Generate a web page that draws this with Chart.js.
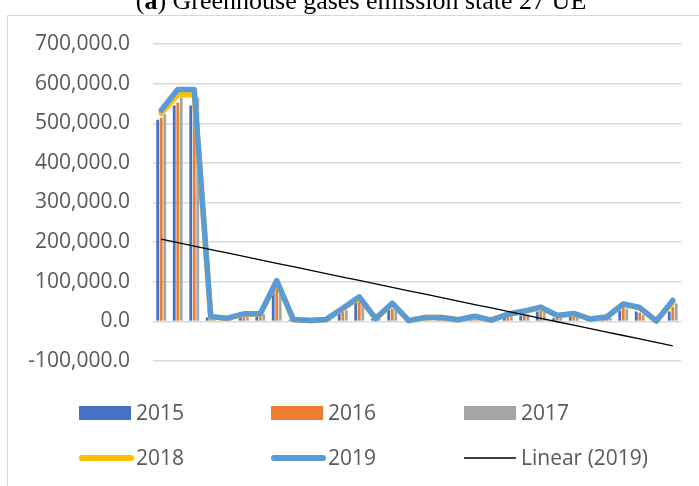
<!DOCTYPE html>
<html><head><meta charset="utf-8">
<script src="https://cdn.jsdelivr.net/npm/chart.js@4/dist/chart.umd.min.js"></script>
<style>
html,body{margin:0;padding:0;background:#fff;overflow:hidden;}
#wrap{position:relative;width:699px;height:486px;}
#frame{position:absolute;left:7px;top:15px;width:720px;height:500px;border-left:1.5px solid #d9d9d9;border-top:1.5px solid #d9d9d9;}
#c{position:absolute;left:0;top:0;}
</style></head><body>
<div id="wrap"><div id="frame"></div><canvas id="c" width="699" height="486"></canvas></div>
<script>
const categories = ["1","2","3","4","5","6","7","8","9","10","11","12","13","14","15","16",
  "17","18","19","20","21","22","23","24","25","26","27","28","29","30","31","32"];
const seriesNames = ["2015","2016","2017","2018","2019","Linear (2019)"];
const y2015 = [509000,545000,545000,10000,6000,11000,14000,80000,4000,1500,4000,21000,49000,6000,30000,1500,
  8000,8000,3000,11000,2500,10000,15000,25000,8000,11000,5000,9000,27000,25000,500,25000];
const y2016 = [514000,552000,555000,9000,6000,13000,16000,87000,4000,1500,4000,25000,51000,6000,32000,1500,
  8000,8000,3000,11000,2500,11000,16000,27000,9000,12000,5000,9000,37000,22000,500,36000];
const y2017 = [523000,564000,565000,9000,5000,12000,18000,72000,4000,1500,4000,28000,46000,6000,28000,1500,
  8000,8000,3000,11000,2500,12000,18000,24000,10000,13000,5000,9000,32000,17000,500,45000];
const y2018 = [525000,572000,572000,11000,8000,18000,18000,100000,5000,2000,5000,32000,60000,7000,45000,2000,
  10000,10000,4000,12000,3000,18000,25000,35000,15000,19000,6000,11000,43000,34000,1000,48000];
const y2019 = [533000,585000,585000,12000,8000,19000,19000,103000,5000,2000,5000,33000,62000,7000,46000,2000,
  10000,10000,4000,13000,3000,18000,26000,36000,15000,20000,6000,11000,44000,35000,1000,53000];
const yTicks = [-100000,0,100000,200000,300000,400000,500000,600000,700000];

// Excel-style least-squares trendline of the 2019 series
function linearTrend(vals){
  const n = vals.length;
  let sx=0, sy=0, sxy=0, sxx=0;
  vals.forEach((v,i)=>{const x=i+1; sx+=x; sy+=v; sxy+=x*v; sxx+=x*x;});
  const b = (n*sxy - sx*sy)/(n*sxx - sx*sx);
  const a = (sy - b*sx)/n;
  return vals.map((v,i)=>a + b*(i+1));
}
const trend2019 = linearTrend(y2019);

const FONT = "'Open Sans', sans-serif";

const customLegend = {
  id:'customLegend',
  afterDraw(chart){
    const ctx = chart.ctx;
    const cols=[79,271,464], rows=[413,458];
    ctx.save();
    ctx.font = "21px " + FONT;
    ctx.textBaseline = 'middle';
    chart.data.datasets.forEach((ds,i)=>{
      const x = cols[i%3], y = rows[Math.floor(i/3)];
      if(ds.type === 'bar'){
        ctx.fillStyle = ds.backgroundColor;
        ctx.fillRect(x, y-7, 52, 14);
      } else {
        ctx.strokeStyle = ds.borderColor;
        ctx.lineWidth = ds.legendWidth;
        const thick = ds.legendWidth > 3;
        ctx.lineCap = thick ? 'round' : 'butt';
        ctx.beginPath();
        ctx.moveTo(thick ? x+3 : x, y); ctx.lineTo(x+52, y); ctx.stroke();
      }
      ctx.fillStyle = '#595959';
      ctx.fillText(ds.label, x+57, y+1);
    });
    ctx.restore();
  }
};

const topTitle = {
  id:'topTitle',
  afterDraw(chart){
    const ctx = chart.ctx;
    ctx.save();
    ctx.fillStyle = '#000';
    ctx.textBaseline = 'alphabetic';
    const y = 9;
    const parts = [["(", "26px 'Liberation Serif', serif"],["a","bold 26px 'Liberation Serif', serif"],[") Greenhouse gases emission state 27 UE","26px 'Liberation Serif', serif"]];
    let total = 0;
    parts.forEach(p=>{ctx.font=p[1]; total += ctx.measureText(p[0]).width;});
    let x = 361 - total/2;
    parts.forEach(p=>{ctx.font=p[1]; ctx.fillText(p[0], x, y); x += ctx.measureText(p[0]).width;});
    ctx.restore();
  }
};

const lineBase = {type:'line', pointRadius:0, pointHoverRadius:0, tension:0, fill:false,
  borderJoinStyle:'round', borderCapStyle:'round'};

new Chart(document.getElementById('c'), {
  data:{
    labels: categories,
    datasets:[
      {type:'bar', label:seriesNames[0], data:y2015, backgroundColor:'#4472C4', order:3},
      {type:'bar', label:seriesNames[1], data:y2016, backgroundColor:'#ED7D31', order:3},
      {type:'bar', label:seriesNames[2], data:y2017, backgroundColor:'#A5A5A5', order:3},
      Object.assign({}, lineBase, {label:seriesNames[3], data:y2018, borderColor:'#FFC000', borderWidth:5.5, legendWidth:6, order:2}),
      Object.assign({}, lineBase, {label:seriesNames[4], data:y2019, borderColor:'#5B9BD5', borderWidth:5.5, legendWidth:6, order:1}),
      Object.assign({}, lineBase, {label:seriesNames[5], data:trend2019, borderColor:'#000000', borderWidth:1.3, legendWidth:1.5, borderCapStyle:'butt', order:0})
    ]
  },
  options:{
    responsive:false,
    animation:false,
    devicePixelRatio:1,
    layout:{padding:{left:20,right:18,top:44,bottom:125}},
    datasets:{bar:{categoryPercentage:0.64, barPercentage:0.8}},
    plugins:{legend:{display:false}, title:{display:false}, tooltip:{enabled:false}},
    scales:{
      x:{display:false, offset:true, grid:{display:false}},
      y:{
        min:-100000, max:700000,
        afterBuildTicks(scale){ scale.ticks = yTicks.map(v=>({value:v})); },
        afterFit(scale){ scale.width = 133; },
        border:{display:false},
        grid:{color:'#d9d9d9', lineWidth:1.5, drawTicks:false},
        ticks:{
          padding:23, color:'#595959', font:{family:FONT, size:21},
          callback:(v)=>Number(v).toLocaleString('en-US',{minimumFractionDigits:1, maximumFractionDigits:1})
        }
      }
    }
  },
  plugins:[customLegend, topTitle]
});
</script>
</body></html>
